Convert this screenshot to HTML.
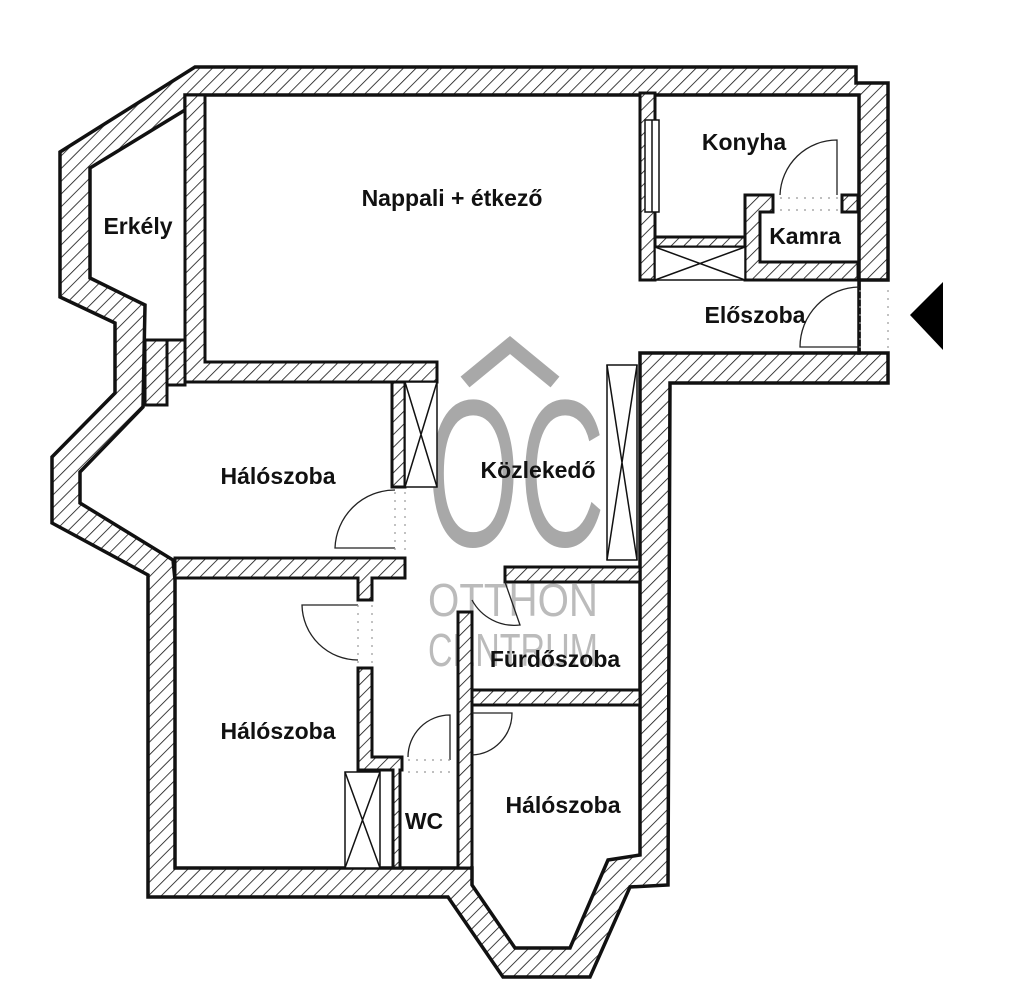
<!DOCTYPE html>
<html><head><meta charset="utf-8"><style>
html,body{margin:0;padding:0;background:#fff;}
svg{display:block;}
text{font-family:"Liberation Sans",sans-serif;font-weight:bold;fill:#111;}
</style></head><body>
<svg width="1024" height="1006" viewBox="0 0 1024 1006" xmlns="http://www.w3.org/2000/svg">
<defs>
<pattern id="h" patternUnits="userSpaceOnUse" width="9" height="9" patternTransform="rotate(45)">
<rect width="9" height="9" fill="#fff"/>
<line x1="0" y1="0" x2="0" y2="9" stroke="#111" stroke-width="1.6"/>
</pattern>
</defs>
<polygon points="195,67 856,67 856,83 888,83 888,280 859,280 859,353 888,353 888,383 670,383 668,885 630,887 590,977 503,977 448,897 148,897 148,575 52,523 52,457 115,393 115,323 60,297 60,152" fill="url(#h)" stroke="#111" stroke-width="3.5" stroke-linejoin="miter"/>
<polygon points="90,168 185,110 185,95 859,95 859,353 640,353 640,855 608,860 570,948 515,948 472,885 472,868 175,868 175,580 173,560 80,503 80,472 143,407 145,305 90,278" fill="#fff" stroke="#111" stroke-width="3.5"/>
<g fill="#9a9a9a" opacity="0.85">
<polyline points="465,382 510,345 555,382" fill="none" stroke="#9a9a9a" stroke-width="14"/>
<text x="427" y="546" font-size="210" style="fill:#9a9a9a;font-weight:normal" textLength="178" lengthAdjust="spacingAndGlyphs">OC</text>
<text x="428" y="616" font-size="46" style="fill:#b0b0b0;font-weight:normal" textLength="170" lengthAdjust="spacingAndGlyphs">OTTHON</text>
<text x="428" y="666" font-size="46" style="fill:#b0b0b0;font-weight:normal" textLength="170" lengthAdjust="spacingAndGlyphs">CENTRUM</text>
</g>
<g fill="url(#h)" stroke="#111" stroke-width="3">
<polygon points="185,95 205,95 205,362 437,362 437,382 185,382"/>
<rect x="145" y="340" width="22" height="65"/>
<rect x="167" y="340" width="18" height="45"/>
<rect x="392" y="382" width="13" height="105"/>
<polygon points="175,558 405,558 405,578 372,578 372,600 358,600 358,578 175,578"/>
<polygon points="358,668 372,668 372,757 402,757 402,770 400,770 400,868 393,868 393,770 358,770"/>
<rect x="458" y="612" width="14" height="256"/>
<rect x="472" y="690" width="168" height="15"/>
<rect x="505" y="567" width="135" height="15"/>
<rect x="640" y="93" width="15" height="187"/>
<rect x="655" y="237" width="90" height="10"/>
<polygon points="745,195 773,195 773,212 760,212 760,262 858,262 858,280 745,280"/>
<rect x="842" y="195" width="16" height="17"/>
</g>
<g fill="#fff" stroke="#111" stroke-width="1.5">
<rect x="405" y="382" width="32" height="105"/><path d="M405,382 L437,487 M437,382 L405,487"/>
<rect x="345" y="772" width="35" height="96"/><path d="M345,772 L380,868 M380,772 L345,868"/>
<rect x="607" y="365" width="30" height="195"/><path d="M607,365 L637,560 M637,365 L607,560"/>
<rect x="655" y="247" width="90" height="33"/><path d="M655,247 L745,280 M745,247 L655,280"/>
<rect x="645" y="120" width="14" height="92"/><line x1="652" y1="120" x2="652" y2="212"/>
</g>
<g fill="none" stroke="#222" stroke-width="1.3">
<path d="M837,195 L837,140 A57,57 0 0 0 780,195"/>
<path d="M859,347 L800,347 A60,60 0 0 1 859,287"/>
<path d="M395,548 L335,548 A60,60 0 0 1 395,490"/>
<path d="M358,605 L302,605 A56,56 0 0 0 358,660"/>
<path d="M505,582 L520,625 A48,48 0 0 1 472,600"/>
<path d="M450,760 L450,715 A42,42 0 0 0 408,757"/>
<path d="M472,713 L512,713 A42,42 0 0 1 472,755"/>
</g>
<g stroke="#999" stroke-width="1.2" stroke-dasharray="2,6">
<line x1="860" y1="290" x2="860" y2="350"/><line x1="888" y1="290" x2="888" y2="350"/>
<line x1="780" y1="198" x2="840" y2="198"/><line x1="780" y1="210" x2="840" y2="210"/>
<line x1="395" y1="492" x2="395" y2="555"/><line x1="405" y1="492" x2="405" y2="555"/>
<line x1="358" y1="605" x2="358" y2="665"/><line x1="372" y1="605" x2="372" y2="665"/>
<line x1="408" y1="760" x2="455" y2="760"/><line x1="408" y1="772" x2="455" y2="772"/>
</g>
<polygon points="910,315 943,282 943,350" fill="#000"/>
<g font-size="23">
<text x="452" y="206" text-anchor="middle">Nappali + étkező</text>
<text x="138" y="234" text-anchor="middle">Erkély</text>
<text x="744" y="150" text-anchor="middle">Konyha</text>
<text x="805" y="244" text-anchor="middle">Kamra</text>
<text x="755" y="323" text-anchor="middle">Előszoba</text>
<text x="278" y="484" text-anchor="middle">Hálószoba</text>
<text x="538" y="478" text-anchor="middle">Közlekedő</text>
<text x="555" y="667" text-anchor="middle">Fürdőszoba</text>
<text x="278" y="739" text-anchor="middle">Hálószoba</text>
<text x="424" y="829" text-anchor="middle">WC</text>
<text x="563" y="813" text-anchor="middle">Hálószoba</text>
</g>
</svg>
</body></html>
